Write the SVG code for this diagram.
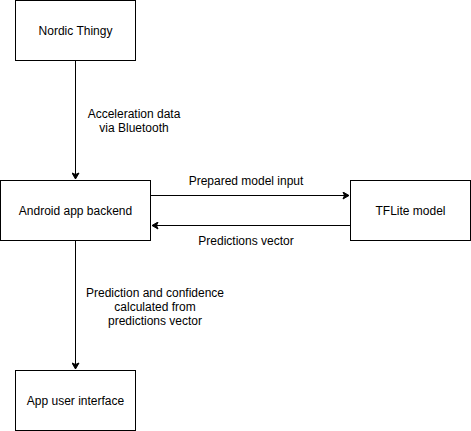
<svg xmlns="http://www.w3.org/2000/svg" width="471" height="431" viewBox="0 0 471 431">
<style>
.box{fill:#fff;stroke:#000;stroke-width:1}
.lbl{font-family:"Liberation Sans",Arial,sans-serif;font-size:12px;fill:#000;text-anchor:middle}
.edge{fill:none;stroke:#000;stroke-width:1}
</style>
<defs>
<marker id="arr" markerWidth="8" markerHeight="8" viewBox="0 0 8 8" refX="7" refY="4" orient="auto" markerUnits="userSpaceOnUse">
<path d="M1,0.5 L7,4 L1,7.5 L2.5,4 Z" fill="#000" stroke="#000" stroke-width="1"/>
</marker>
</defs>
<rect width="471" height="431" fill="#fff"/>
<g id="connectors">
<path class="edge" d="M75.5,60.5 L75.5,179" marker-end="url(#arr)"/>
<path class="edge" d="M150.5,195.5 L349,195.5" marker-end="url(#arr)"/>
<path class="edge" d="M350.5,225.5 L152,225.5" marker-end="url(#arr)"/>
<path class="edge" d="M75.5,240.5 L75.5,369" marker-end="url(#arr)"/>
<text class="lbl" x="134" y="118">Acceleration data</text>
<text class="lbl" x="134" y="132">via Bluetooth</text>
<text class="lbl" x="246" y="185">Prepared model input</text>
<text class="lbl" x="246" y="245">Predictions vector</text>
<text class="lbl" x="155" y="297">Prediction and confidence</text>
<text class="lbl" x="155" y="311">calculated from</text>
<text class="lbl" x="155" y="325">predictions vector</text>
</g>
<g id="nordic">
<rect class="box" x="15.5" y="0.5" width="120" height="60"/>
<text class="lbl" x="75.5" y="34.5">Nordic Thingy</text>
</g>
<g id="android">
<rect class="box" x="0.5" y="180.5" width="150" height="60"/>
<text class="lbl" x="75.5" y="214.5">Android app backend</text>
</g>
<g id="tflite">
<rect class="box" x="350.5" y="180.5" width="120" height="60"/>
<text class="lbl" x="410.5" y="214.5">TFLite model</text>
</g>
<g id="appui">
<rect class="box" x="15.5" y="370.5" width="120" height="60"/>
<text class="lbl" x="75.5" y="404.5">App user interface</text>
</g>
</svg>
